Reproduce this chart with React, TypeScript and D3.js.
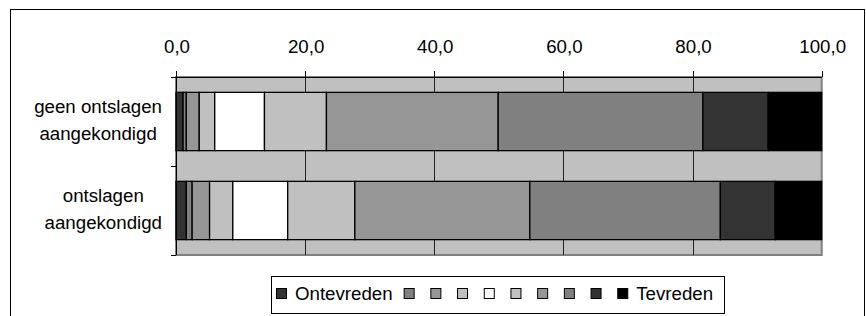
import React, { useRef, useEffect } from "react";
import * as d3 from "d3";

// satisfaction scores, 1 (Ontevreden) .. 10 (Tevreden), percent per group
const groups = [
  ["geen ontslagen", "aangekondigd"],
  ["ontslagen", "aangekondigd"]
];
const geenOntslagen = [1.1, 0.5, 2.0, 2.4, 7.7, 9.6, 26.6, 31.7, 10.1, 8.3];
const welOntslagen = [1.6, 0.9, 2.7, 3.6, 8.5, 10.4, 27.1, 29.5, 8.5, 7.2];
const legendLabels = ["Ontevreden", "", "", "", "", "", "", "", "", "Tevreden"];
const tickValues = [0, 20, 40, 60, 80, 100];
const fills = [
  "#333333", "#808080", "#969696", "#c0c0c0", "#ffffff",
  "#c0c0c0", "#969696", "#808080", "#333333", "#000000"
];

const font = "'Liberation Sans', Arial, sans-serif";
const fontSize = 18.7;

const App = () => {
  const node: any = useRef();

  useEffect(() => {
    const width = 866,
      height = 316;
    const left = 176,
      right = 821.7,
      top = 77,
      bottom = 255;

    const svg = d3.select(node.current);
    svg.selectAll("*").remove();
    svg.attr("width", width).attr("height", height);

    const series = [geenOntslagen, welOntslagen];

    const x = d3.scaleLinear().domain([0, 100]).range([left, right]);
    const y = d3
      .scaleBand<number>()
      .domain(d3.range(groups.length))
      .range([top, bottom])
      .paddingInner(0.345)
      .paddingOuter(0.1725);
    const step = (bottom - top) / groups.length;

    // outer chart frame (bottom runs off the picture)
    svg
      .append("rect")
      .attr("x", 10.5)
      .attr("y", 9.5)
      .attr("width", 854)
      .attr("height", 330)
      .attr("fill", "white")
      .attr("stroke", "black")
      .attr("stroke-width", 1);

    // plot area
    svg
      .append("rect")
      .attr("x", left)
      .attr("y", top)
      .attr("width", right - left)
      .attr("height", bottom - top)
      .attr("fill", "#c0c0c0")
      .attr("stroke", "#808080")
      .attr("stroke-width", 2);

    // gridlines
    svg
      .append("g")
      .selectAll("line")
      .data(tickValues.slice(1, -1))
      .enter()
      .append("line")
      .attr("x1", d => Math.round(x(d)) + 0.5)
      .attr("x2", d => Math.round(x(d)) + 0.5)
      .attr("y1", top)
      .attr("y2", bottom)
      .attr("stroke", "#222")
      .attr("stroke-width", 1);

    // stacked bars
    series.forEach((vals, gi) => {
      const cum = [0, ...d3.cumsum(vals)];
      svg
        .append("g")
        .selectAll("rect")
        .data(vals)
        .enter()
        .append("rect")
        .attr("x", (_, i) => x(cum[i]))
        .attr("width", (_, i) => x(cum[i + 1]) - x(cum[i]))
        .attr("y", y(gi) as number)
        .attr("height", y.bandwidth())
        .attr("fill", (_, i) => fills[i])
        .attr("stroke", "black")
        .attr("stroke-width", 1.3);
    });

    // top axis
    const axis = svg.append("g").attr("stroke", "black").attr("stroke-width", 1);
    axis
      .append("line")
      .attr("x1", 171)
      .attr("x2", right)
      .attr("y1", top + 0.5)
      .attr("y2", top + 0.5);
    axis
      .selectAll(".xt")
      .data(tickValues)
      .enter()
      .append("line")
      .attr("x1", d => Math.round(x(d)) + 0.5)
      .attr("x2", d => Math.round(x(d)) + 0.5)
      .attr("y1", 71)
      .attr("y2", top);

    // left axis
    axis
      .append("line")
      .attr("x1", left + 0.5)
      .attr("x2", left + 0.5)
      .attr("y1", top)
      .attr("y2", bottom);
    axis
      .selectAll(".yt")
      .data(d3.range(groups.length + 1))
      .enter()
      .append("line")
      .attr("x1", 171)
      .attr("x2", left)
      .attr("y1", d => Math.round(top + d * step) + 0.5)
      .attr("y2", d => Math.round(top + d * step) + 0.5);

    // tick labels
    svg
      .append("g")
      .selectAll("text")
      .data(tickValues)
      .enter()
      .append("text")
      .attr("x", d => x(d) + 1)
      .attr("y", 52.7)
      .attr("text-anchor", "middle")
      .attr("font-family", font)
      .attr("font-size", fontSize)
      .attr("fill", "black")
      .text(d => d3.format(".1f")(d).replace(".", ","));

    // category labels: block right aligned, lines centered
    groups.forEach((lines, gi) => {
      const cy = top + (gi + 0.5) * step;
      const g = svg.append("g");
      const texts = g
        .selectAll("text")
        .data(lines)
        .enter()
        .append("text")
        .attr("y", (_, i) => cy + (i === 0 ? -9 : 18))
        .attr("text-anchor", "middle")
        .attr("font-family", font)
        .attr("font-size", fontSize)
        .attr("fill", "black")
        .text(d => d);
      let maxW = 0;
      texts.each(function () {
        maxW = Math.max(maxW, (this as SVGTextElement).getComputedTextLength());
      });
      texts.attr("x", 162 - maxW / 2);
    });

    // legend
    const lg = svg.append("g");
    lg.append("rect")
      .attr("x", 271.5)
      .attr("y", 276.5)
      .attr("width", 453)
      .attr("height", 37)
      .attr("fill", "white")
      .attr("stroke", "black")
      .attr("stroke-width", 1);
    let lx = 276;
    legendLabels.forEach((label, i) => {
      lg.append("rect")
        .attr("x", lx + 0.5)
        .attr("y", 288.5)
        .attr("width", 10)
        .attr("height", 10)
        .attr("fill", fills[i])
        .attr("stroke", "black")
        .attr("stroke-width", 1);
      if (label) {
        const t = lg
          .append("text")
          .attr("x", lx + 19)
          .attr("y", 300)
          .attr("font-family", font)
          .attr("font-size", fontSize)
          .attr("fill", "black")
          .text(label);
        lx += 19 + (t.node() as SVGTextElement).getComputedTextLength() + 11;
      } else {
        lx += 26.7;
      }
    });
  }, []);

  return (
    <div style={{ position: "absolute", left: 0, top: 0 }}>
      <svg ref={node}></svg>
    </div>
  );
};

export default App;
